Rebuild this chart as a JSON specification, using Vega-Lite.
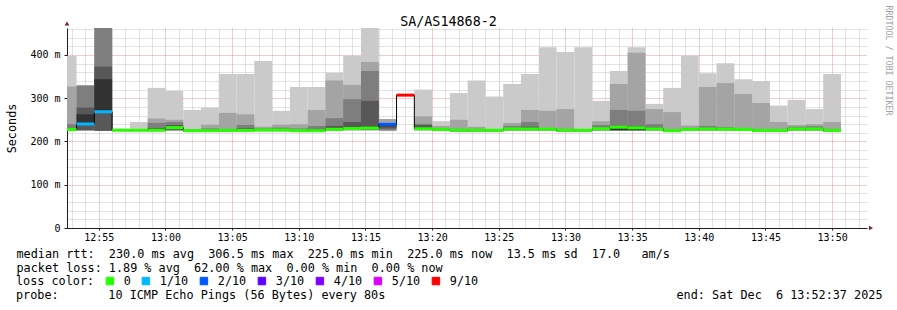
{
  "$schema": "https://vega.github.io/schema/vega-lite/v6.json",
  "width": 800,
  "height": 200,
  "autosize": {"type": "none"},
  "padding": {"left": 67, "top": 28, "right": 30, "bottom": 82},
  "background": "white",
  "title": {"text": "probe:\u00a0\u00a0\u00a0\u00a0\u00a0\u00a0\u00a010\u00a0ICMP\u00a0Echo\u00a0Pings\u00a0(56\u00a0Bytes)\u00a0every\u00a080s\u00a0\u00a0\u00a0\u00a0\u00a0\u00a0\u00a0\u00a0\u00a0\u00a0\u00a0\u00a0\u00a0\u00a0\u00a0\u00a0\u00a0\u00a0\u00a0\u00a0\u00a0\u00a0\u00a0\u00a0\u00a0\u00a0\u00a0\u00a0\u00a0\u00a0\u00a0\u00a0\u00a0\u00a0\u00a0\u00a0\u00a0\u00a0\u00a0\u00a0\u00a0end:\u00a0Sat\u00a0Dec\u00a0\u00a06\u00a013:52:37\u00a02025",
    "orient": "bottom", "anchor": "start", "frame": "group", "align": "left", "dx": -51, "offset": 11, "baseline": "alphabetic",
    "font": "DejaVu Sans Mono", "fontSize": 11.8, "fontWeight": "normal", "color": "#000000", "limit": 0},
  "data": {"values": [
    {"t0": 3120, "t1": 3200, "p1": 224, "p2": 225, "p3": 226, "p4": 226.5, "p5": 227, "p6": 227.5, "p7": 230, "p8": 240, "p9": 327, "p10": 398, "med": 227.5, "loss": "0"},
    {"t0": 3200, "t1": 3280, "p1": 224, "p2": 225, "p3": 225.5, "p4": 226.6, "p5": 240.5, "p6": 262.9, "p7": 278.3, "p8": 328.4, "p9": 330.7, "p10": null, "med": 240.5, "loss": "1/10"},
    {"t0": 3280, "t1": 3360, "p1": 223.5, "p2": 224, "p3": 224.5, "p4": 225, "p5": 268.7, "p6": 344, "p7": 373, "p8": 470, "p9": 480, "p10": null, "med": 268.7, "loss": "1/10"},
    {"t0": 3360, "t1": 3440, "p1": 223, "p2": 224, "p3": 224.5, "p4": 225, "p5": 225.8, "p6": 226.2, "p7": 226.6, "p8": 227, "p9": 227.5, "p10": 228, "med": 226.2, "loss": "0"},
    {"t0": 3440, "t1": 3520, "p1": 223, "p2": 224, "p3": 224.5, "p4": 225, "p5": 225.6, "p6": 226, "p7": 226.5, "p8": 227, "p9": 228, "p10": 245, "med": 226, "loss": "0"},
    {"t0": 3520, "t1": 3600, "p1": 223, "p2": 224, "p3": 224.5, "p4": 225, "p5": 225.6, "p6": 226, "p7": 231, "p8": 243, "p9": 253, "p10": 324, "med": 226, "loss": "0"},
    {"t0": 3600, "t1": 3680, "p1": 224, "p2": 225, "p3": 226, "p4": 227, "p5": 231, "p6": 232, "p7": 238, "p8": 245, "p9": 250, "p10": 317, "med": 232, "loss": "0"},
    {"t0": 3680, "t1": 3760, "p1": 222, "p2": 223, "p3": 223.5, "p4": 224, "p5": 224.6, "p6": 225, "p7": 225.5, "p8": 226, "p9": 229, "p10": 273, "med": 225, "loss": "0"},
    {"t0": 3760, "t1": 3840, "p1": 222, "p2": 223, "p3": 223.5, "p4": 224, "p5": 224.6, "p6": 225, "p7": 225.5, "p8": 230, "p9": 239, "p10": 278, "med": 225, "loss": "0"},
    {"t0": 3840, "t1": 3920, "p1": 222, "p2": 223, "p3": 223.5, "p4": 224, "p5": 225, "p6": 225.5, "p7": 226, "p8": 228, "p9": 266, "p10": 356, "med": 225.5, "loss": "0"},
    {"t0": 3920, "t1": 4000, "p1": 222, "p2": 223, "p3": 223.5, "p4": 224, "p5": 225, "p6": 225.5, "p7": 230, "p8": 238, "p9": 263, "p10": 356, "med": 225.5, "loss": "0"},
    {"t0": 4000, "t1": 4080, "p1": 223, "p2": 224, "p3": 224.5, "p4": 225, "p5": 226, "p6": 226.5, "p7": 227, "p8": 230, "p9": 234, "p10": 386, "med": 226.5, "loss": "0"},
    {"t0": 4080, "t1": 4160, "p1": 223, "p2": 224, "p3": 224.5, "p4": 225, "p5": 226, "p6": 226.5, "p7": 227, "p8": 232, "p9": 239, "p10": 271, "med": 226.5, "loss": "0"},
    {"t0": 4160, "t1": 4240, "p1": 222, "p2": 223, "p3": 223.5, "p4": 224, "p5": 224.6, "p6": 225, "p7": 225.5, "p8": 230, "p9": 240, "p10": 326, "med": 225, "loss": "0"},
    {"t0": 4240, "t1": 4320, "p1": 222, "p2": 223, "p3": 223.5, "p4": 224, "p5": 224.6, "p6": 225, "p7": 229, "p8": 236, "p9": 273, "p10": 326, "med": 225, "loss": "0"},
    {"t0": 4320, "t1": 4400, "p1": 224, "p2": 225, "p3": 226, "p4": 227, "p5": 227.6, "p6": 228.2, "p7": 236, "p8": 254, "p9": 341, "p10": 359, "med": 228.2, "loss": "0"},
    {"t0": 4400, "t1": 4480, "p1": 225, "p2": 226, "p3": 227, "p4": 228, "p5": 229, "p6": 230, "p7": 245, "p8": 298, "p9": 331, "p10": 398, "med": 230, "loss": "0"},
    {"t0": 4480, "t1": 4560, "p1": 225, "p2": 226, "p3": 227, "p4": 228, "p5": 230, "p6": 231, "p7": 294, "p8": 363, "p9": 384, "p10": 480, "med": 231, "loss": "0"},
    {"t0": 4560, "t1": 4640, "p1": null, "p2": 224, "p3": 226.5, "p4": 230, "p5": 235, "p6": 239.7, "p7": 240.5, "p8": 241, "p9": 252, "p10": null, "med": 239.7, "loss": "2/10"},
    {"t0": 4640, "t1": 4720, "p1": null, "p2": null, "p3": null, "p4": null, "p5": 307.2, "p6": null, "p7": null, "p8": null, "p9": null, "p10": null, "med": 307.2, "loss": "9/10"},
    {"t0": 4720, "t1": 4800, "p1": 225, "p2": 226, "p3": 227, "p4": 228, "p5": 229, "p6": 229.5, "p7": 238, "p8": 241, "p9": 258, "p10": 320, "med": 229.5, "loss": "0"},
    {"t0": 4800, "t1": 4880, "p1": 224, "p2": 225, "p3": 226, "p4": 226.5, "p5": 227.5, "p6": 228, "p7": 228.5, "p8": 230, "p9": 236, "p10": 247, "med": 228, "loss": "0"},
    {"t0": 4880, "t1": 4960, "p1": 222, "p2": 223, "p3": 223.5, "p4": 224, "p5": 225, "p6": 226, "p7": 226.5, "p8": 228, "p9": 250, "p10": 312, "med": 226, "loss": "0"},
    {"t0": 4960, "t1": 5040, "p1": 222, "p2": 223, "p3": 223.5, "p4": 224, "p5": 225, "p6": 226, "p7": 226.5, "p8": 228, "p9": 234, "p10": 341, "med": 226, "loss": "0"},
    {"t0": 5040, "t1": 5120, "p1": 222, "p2": 223, "p3": 223.5, "p4": 224, "p5": 225, "p6": 226, "p7": 226.5, "p8": 227, "p9": 228, "p10": 304, "med": 226, "loss": "0"},
    {"t0": 5120, "t1": 5200, "p1": 224, "p2": 225, "p3": 226, "p4": 227, "p5": 228, "p6": 229, "p7": 231, "p8": 236, "p9": 243, "p10": 333, "med": 229, "loss": "0"},
    {"t0": 5200, "t1": 5280, "p1": 224, "p2": 225, "p3": 226, "p4": 227, "p5": 228, "p6": 229, "p7": 234, "p8": 245, "p9": 273, "p10": 356, "med": 229, "loss": "0"},
    {"t0": 5280, "t1": 5360, "p1": 224, "p2": 225, "p3": 226, "p4": 226.5, "p5": 227.5, "p6": 228.5, "p7": 229, "p8": 229.5, "p9": 271, "p10": 418, "med": 228.5, "loss": "0"},
    {"t0": 5360, "t1": 5440, "p1": 222, "p2": 223, "p3": 223.5, "p4": 224, "p5": 225, "p6": 226, "p7": 226.5, "p8": 228, "p9": 275, "p10": 407, "med": 226, "loss": "0"},
    {"t0": 5440, "t1": 5520, "p1": 222, "p2": 223, "p3": 223.5, "p4": 224, "p5": 225, "p6": 226, "p7": 226.5, "p8": 227, "p9": 229, "p10": 418, "med": 226, "loss": "0"},
    {"t0": 5520, "t1": 5600, "p1": 224, "p2": 225, "p3": 226, "p4": 227, "p5": 228.5, "p6": 229.5, "p7": 231, "p8": 238, "p9": 247, "p10": 294, "med": 229.5, "loss": "0"},
    {"t0": 5600, "t1": 5680, "p1": 224, "p2": 225, "p3": 225.5, "p4": 226, "p5": 226.5, "p6": 233, "p7": 236, "p8": 273, "p9": 333, "p10": 363, "med": 233, "loss": "0"},
    {"t0": 5680, "t1": 5760, "p1": 224, "p2": 225, "p3": 225.5, "p4": 226, "p5": 226.5, "p6": 231.5, "p7": 235, "p8": 271, "p9": 405, "p10": 418, "med": 231.5, "loss": "0"},
    {"t0": 5760, "t1": 5840, "p1": 224, "p2": 225, "p3": 226, "p4": 227, "p5": 228, "p6": 229, "p7": 232, "p8": 240, "p9": 275, "p10": 287, "med": 229, "loss": "0"},
    {"t0": 5840, "t1": 5920, "p1": 222, "p2": 223, "p3": 223.5, "p4": 224, "p5": 224.6, "p6": 225, "p7": 225.5, "p8": 227, "p9": 268, "p10": 324, "med": 225, "loss": "0"},
    {"t0": 5920, "t1": 6000, "p1": 224, "p2": 225, "p3": 226, "p4": 226.5, "p5": 227.5, "p6": 228, "p7": 229, "p8": 230, "p9": 237, "p10": 398, "med": 228, "loss": "0"},
    {"t0": 6000, "t1": 6080, "p1": 224, "p2": 225, "p3": 226, "p4": 227, "p5": 228, "p6": 229, "p7": 230, "p8": 236, "p9": 326, "p10": 358, "med": 229, "loss": "0"},
    {"t0": 6080, "t1": 6160, "p1": 224, "p2": 225, "p3": 226, "p4": 227, "p5": 228, "p6": 228.5, "p7": 229, "p8": 233, "p9": 335, "p10": 381, "med": 228.5, "loss": "0"},
    {"t0": 6160, "t1": 6240, "p1": 224, "p2": 225, "p3": 226, "p4": 226.5, "p5": 227.5, "p6": 228, "p7": 228.5, "p8": 229, "p9": 310, "p10": 344, "med": 228, "loss": "0"},
    {"t0": 6240, "t1": 6320, "p1": 222, "p2": 223, "p3": 223.5, "p4": 224, "p5": 225, "p6": 225.5, "p7": 226, "p8": 227, "p9": 289, "p10": 340, "med": 225.5, "loss": "0"},
    {"t0": 6320, "t1": 6400, "p1": 222, "p2": 223, "p3": 223.5, "p4": 224, "p5": 225, "p6": 225.5, "p7": 226, "p8": 227, "p9": 245, "p10": 283, "med": 225.5, "loss": "0"},
    {"t0": 6400, "t1": 6480, "p1": 224, "p2": 225, "p3": 226, "p4": 227, "p5": 228, "p6": 229, "p7": 230, "p8": 234, "p9": 238, "p10": 296, "med": 229, "loss": "0"},
    {"t0": 6480, "t1": 6560, "p1": 224, "p2": 225, "p3": 226, "p4": 227, "p5": 228, "p6": 229, "p7": 230, "p8": 235, "p9": 240, "p10": 275, "med": 229, "loss": "0"},
    {"t0": 6560, "t1": 6640, "p1": 222, "p2": 223, "p3": 223.5, "p4": 224, "p5": 225, "p6": 225.5, "p7": 226, "p8": 228, "p9": 245, "p10": 356, "med": 225.5, "loss": "0"},
    {"t0": 6640, "t1": null, "med": 225.5, "loss": null}
  ]},
  "resolve": {"axis": {"x": "independent", "y": "independent"}},
  "layer": [
    {
      "transform": [{"filter": "isValid(datum.p1) && isValid(datum.p10)"}],
      "mark": {"type": "rect", "color": "#cacaca", "clip": true},
      "encoding": {
        "x": {"field": "t0", "type": "quantitative", "scale": {"domain": [3157, 6757], "nice": false, "zero": false},
          "axis": {"orient": "bottom", "values": [3300, 3600, 3900, 4200, 4500, 4800, 5100, 5400, 5700, 6000, 6300, 6600],
            "labelExpr": "(12 + floor(datum.value / 3600)) + ':' + (floor((datum.value % 3600) / 60) < 10 ? '0' : '') + floor((datum.value % 3600) / 60)",
            "labelFont": "DejaVu Sans Mono", "labelFontSize": 10, "labelColor": "#000000", "labelBaseline": "alphabetic", "labelPadding": 10, "labelFlush": false, "labelOverlap": false,
            "ticks": true, "tickSize": 2, "tickColor": "#1f1f1f", "domain": true, "domainColor": "#1f1f1f", "domainWidth": 1,
            "grid": true, "gridColor": "#de4f4f", "gridOpacity": 0.6, "gridDash": [1, 1],
            "title": ["median\u00a0rtt:\u00a0\u00a0230.0\u00a0ms\u00a0avg\u00a0\u00a0306.5\u00a0ms\u00a0max\u00a0\u00a0225.0\u00a0ms\u00a0min\u00a0\u00a0225.0\u00a0ms\u00a0now\u00a0\u00a013.5\u00a0ms\u00a0sd\u00a0\u00a017.0\u00a0\u00a0\u00a0am/s", "packet\u00a0loss:\u00a01.89\u00a0%\u00a0avg\u00a0\u00a062.00\u00a0%\u00a0max\u00a0\u00a00.00\u00a0%\u00a0min\u00a0\u00a00.00\u00a0%\u00a0now"],
            "titleX": -51, "titleY": 29.3, "titleAlign": "left", "titleAnchor": "start", "titleBaseline": "alphabetic", "titleLineHeight": 13.9,
            "titleFont": "DejaVu Sans Mono", "titleFontSize": 11.8, "titleFontWeight": "normal", "titleColor": "#000000", "titleLimit": 0}},
        "x2": {"field": "t1"},
        "y": {"field": "p1", "type": "quantitative", "scale": {"domain": [0, 462.4], "nice": false, "zero": true},
          "axis": {"orient": "left", "values": [0, 100, 200, 300, 400],
            "labelExpr": "datum.value === 0 ? '0\u00a0\u00a0' : datum.value + '\u00a0m'",
            "labelFont": "DejaVu Sans Mono", "labelFontSize": 10, "labelColor": "#000000", "labelBaseline": "middle", "labelPadding": 4, "labelFlush": false, "labelOverlap": false,
            "ticks": true, "tickSize": 3, "tickColor": "#1f1f1f", "domain": true, "domainColor": "#1f1f1f", "domainWidth": 1,
            "grid": true, "gridColor": "#de4f4f", "gridOpacity": 0.6, "gridDash": [1, 1],
            "title": "Seconds", "titleX": -52, "titleY": 100, "titleAngle": 270, "titleAlign": "center", "titleBaseline": "alphabetic",
            "titleFont": "DejaVu Sans Mono", "titleFontSize": 11.8, "titleFontWeight": "normal", "titleColor": "#000000"}},
        "y2": {"field": "p10"}
      }
    },
    {
      "transform": [{"filter": "isValid(datum.p2) && isValid(datum.p9)"}],
      "mark": {"type": "rect", "color": "#a4a4a4", "clip": true},
      "encoding": {
        "x": {"field": "t0", "type": "quantitative",
          "axis": {"orient": "top", "values": [3180, 3240, 3360, 3420, 3480, 3540, 3660, 3720, 3780, 3840, 3960, 4020, 4080, 4140, 4260, 4320, 4380, 4440, 4560, 4620, 4680, 4740, 4860, 4920, 4980, 5040, 5160, 5220, 5280, 5340, 5460, 5520, 5580, 5640, 5760, 5820, 5880, 5940, 6060, 6120, 6180, 6240, 6360, 6420, 6480, 6540, 6660, 6720],
            "labels": false, "ticks": false, "domain": false,
            "grid": true, "gridColor": "#8f8f8f", "gridOpacity": 0.5, "gridDash": [1, 1],
            "title": "SA/AS14868-2", "titleX": 381, "titleY": -3, "titleAlign": "center", "titleAnchor": "middle", "titleBaseline": "alphabetic", "titleAngle": 0,
            "titleFont": "DejaVu Sans Mono", "titleFontSize": 13.4, "titleFontWeight": "normal", "titleColor": "#000000"}},
        "x2": {"field": "t1"},
        "y": {"field": "p2", "type": "quantitative",
          "axis": {"orient": "right", "values": [20, 40, 60, 80, 120, 140, 160, 180, 220, 240, 260, 280, 320, 340, 360, 380, 420, 440, 460],
            "labels": false, "ticks": false, "domain": false,
            "grid": true, "gridColor": "#8f8f8f", "gridOpacity": 0.5, "gridDash": [1, 1],
            "title": "RRDTOOL / TOBI OETIKER", "titleAngle": 90, "titleX": 18, "titleY": -23, "titleAlign": "left", "titleBaseline": "alphabetic",
            "titleFont": "DejaVu Sans Mono", "titleFontSize": 8.3, "titleFontWeight": "normal", "titleColor": "#a0a0a0"}},
        "y2": {"field": "p9"}
      }
    },
    {
      "transform": [{"filter": "isValid(datum.p3) && isValid(datum.p8)"}],
      "mark": {"type": "rect", "color": "#7e7e7e", "clip": true},
      "encoding": {
        "x": {"field": "t0", "type": "quantitative", "axis": null},
        "x2": {"field": "t1"},
        "y": {"field": "p3", "type": "quantitative", "axis": null},
        "y2": {"field": "p8"}
      }
    },
    {
      "transform": [{"filter": "isValid(datum.p4) && isValid(datum.p7)"}],
      "mark": {"type": "rect", "color": "#585858", "clip": true},
      "encoding": {
        "x": {"field": "t0", "type": "quantitative", "axis": null},
        "x2": {"field": "t1"},
        "y": {"field": "p4", "type": "quantitative", "axis": null},
        "y2": {"field": "p7"}
      }
    },
    {
      "transform": [{"filter": "isValid(datum.p5) && isValid(datum.p6)"}],
      "mark": {"type": "rect", "color": "#323232", "clip": true},
      "encoding": {
        "x": {"field": "t0", "type": "quantitative", "axis": null},
        "x2": {"field": "t1"},
        "y": {"field": "p5", "type": "quantitative", "axis": null},
        "y2": {"field": "p6"}
      }
    },
    {
      "mark": {"type": "line", "interpolate": "step-after", "color": "#000000", "strokeWidth": 1, "clip": true},
      "encoding": {
        "x": {"field": "t0", "type": "quantitative", "axis": null},
        "y": {"field": "med", "type": "quantitative", "axis": null}
      }
    },
    {
      "transform": [{"filter": "isValid(datum.loss)"}],
      "mark": {"type": "rule", "strokeWidth": 3, "strokeCap": "butt", "clip": true},
      "encoding": {
        "x": {"field": "t0", "type": "quantitative", "axis": null},
        "x2": {"field": "t1"},
        "y": {"field": "med", "type": "quantitative", "axis": null},
        "color": {"field": "loss", "type": "nominal",
          "scale": {"domain": ["0", "1/10", "2/10", "3/10", "4/10", "5/10", "9/10"], "range": ["#26ff00", "#00b8ff", "#0059ff", "#5e00ff", "#7e00ff", "#dd00ff", "#ff0000"]},
          "legend": {"orient": "none", "legendX": -51, "legendY": 247, "direction": "horizontal",
            "title": "loss color:", "titleOrient": "left", "titlePadding": 9, "titleFont": "DejaVu Sans Mono", "titleFontSize": 11.8, "titleFontWeight": "normal", "titleColor": "#000000", "titleBaseline": "middle",
            "labelFont": "DejaVu Sans Mono", "labelFontSize": 11.8, "labelColor": "#000000", "labelOffset": 8, "columnPadding": 9, "labelLimit": 0, "gridAlign": "each",
            "symbolType": "square", "symbolSize": 56, "symbolStrokeWidth": 1, "symbolStrokeColor": "#000000",
            "encode": {"symbols": {"update": {"fill": {"scale": "color", "field": "value"}, "stroke": {"value": "#000000"}, "strokeWidth": {"value": 1}, "shape": {"value": "square"}, "opacity": {"value": 1}, "fillOpacity": {"value": 1}}}}}
        }
      }
    },
    {
      "data": {"values": [{"arrow": "y"}]},
      "mark": {"type": "point", "shape": "triangle-up", "filled": true, "color": "#801f1f", "size": 22, "opacity": 1, "clip": false},
      "encoding": {
        "x": {"datum": 3157, "type": "quantitative", "axis": null},
        "y": {"datum": 473, "type": "quantitative", "axis": null}
      }
    },
    {
      "data": {"values": [{"arrow": "x"}]},
      "mark": {"type": "point", "shape": "triangle-right", "filled": true, "color": "#801f1f", "size": 22, "opacity": 1, "clip": false},
      "encoding": {
        "x": {"datum": 6775, "type": "quantitative", "axis": null},
        "y": {"datum": 0, "type": "quantitative", "axis": null}
      }
    }
  ],
  "config": {"view": {"stroke": null}, "font": "DejaVu Sans Mono"}
}
